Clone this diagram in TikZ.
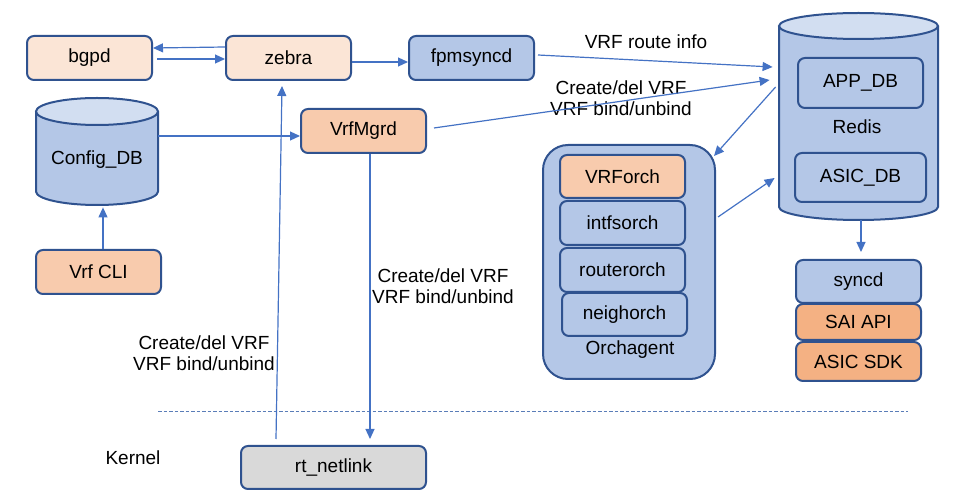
\documentclass[tikz,border=0pt]{standalone}
\usepackage{fontspec}
\setmainfont{Liberation Sans}
\usetikzlibrary{arrows.meta,calc}
\definecolor{bd}{HTML}{2F528F}
\definecolor{ac}{HTML}{4472C4}
\definecolor{dsh}{HTML}{5A7DB8}
\definecolor{peach}{HTML}{FBE5D6}
\definecolor{orl}{HTML}{F8CBAD}
\definecolor{orm}{HTML}{F4B183}
\definecolor{bl}{HTML}{B4C7E7}
\definecolor{bltop}{HTML}{D2DEF1}
\definecolor{gr}{HTML}{D9D9D9}
\begin{document}
\begin{tikzpicture}[x=0.5pt,y=-0.5pt,
  font=\fontsize{9.5}{10.5}\selectfont,
  box/.style={draw=bd, line width=1pt, rounded corners=3.5pt, inner sep=0pt, align=center, minimum width=62.5pt, minimum height=22pt},
  arr/.style={draw=ac, line width=0.6pt, -{Triangle[length=5pt,width=4.5pt]}},
  lbl/.style={align=center, inner sep=0pt},
  cylline/.style={draw=bd, line width=1pt}]
\useasboundingbox (0,0) rectangle (965,502);

% Config_DB cylinder
\node[inner sep=0pt, minimum width=61pt, minimum height=53.5pt] (cfg) at (97,151.5) {};
\fill[bl] (36,111.5) -- (36,191.5) arc[start angle=180,end angle=0,x radius=61,y radius=13.5] -- (158,111.5) -- cycle;
\draw[cylline] (36,111.5) -- (36,191.5) arc[start angle=180,end angle=0,x radius=61,y radius=13.5] -- (158,111.5);
\draw[cylline, fill=bltop] (97,111.5) ellipse[x radius=61, y radius=13.5];
\node[lbl] (cfgl) at (97,160) {Config\_DB};

% Redis cylinder
\node[inner sep=0pt, minimum width=79.5pt, minimum height=103.5pt] (redis) at (858.5,116.5) {};
\fill[bl] (779,26) -- (779,207) arc[start angle=180,end angle=0,x radius=79.5,y radius=13] -- (938,26) -- cycle;
\draw[cylline] (779,26) -- (779,207) arc[start angle=180,end angle=0,x radius=79.5,y radius=13] -- (938,26);
\draw[cylline, fill=bltop] (858.5,26) ellipse[x radius=79.5, y radius=13];
\node[box, fill=bl, minimum height=25pt] (app) at (860.5,83) {APP\_DB};
\node[box, fill=bl, minimum width=65.5pt, minimum height=24.5pt] (asicdb) at (860.5,177.5) {ASIC\_DB};
\node[lbl] (redisl) at (857,127) {Redis};

% top row
\node[box, fill=peach] (bgpd) at (89.5,58) {bgpd};
\node[box, fill=peach] (zebra) at (288.5,58) {zebra};
\node[box, fill=bl] (fpm) at (471.5,58) {fpmsyncd};
\node[box, fill=orl] (vrfmgrd) at (363.5,131) {VrfMgrd};
\node[box, fill=orl] (vrfcli) at (98.5,272) {Vrf CLI};
\node[box, fill=gr, minimum width=92.5pt, minimum height=21.5pt] (rtnl) at (333.5,467.5) {rt\_netlink};

% Orchagent
\node[draw=bd, line width=1pt, fill=bl, rounded corners=12.5pt, inner sep=0pt, minimum width=86pt, minimum height=117pt] (orch) at (629,262) {};
\node[box, fill=orl, minimum height=21.5pt] (vrforch) at (622.5,176.5) {VRForch};
\node[box, fill=bl] (intfs) at (622.5,223) {intfsorch};
\node[box, fill=bl] (router) at (622.5,270) {routerorch};
\node[box, fill=bl, minimum height=21.5pt] (neigh) at (624.5,314.5) {neighorch};
\node[lbl] (orchl) at (630,350) {Orchagent};

% syncd stack
\node[box, fill=bl, minimum height=21.5pt] (syncd) at (858.5,281.5) {syncd};
\node[box, fill=orm, minimum height=18pt] (sai) at (858.5,322) {SAI API};
\node[box, fill=orm, minimum height=19.5pt] (sdk) at (858.5,361.5) {ASIC SDK};

% labels
\node[lbl] (l1) at (646,42) {VRF route info};
\node[lbl] (l2) at (621,98) {Create/del VRF\\VRF bind/unbind};
\node[lbl] (l3) at (443,286) {Create/del VRF\\VRF bind/unbind};
\node[lbl] (l4) at (204,353) {Create/del VRF\\VRF bind/unbind};
\node[lbl] (kern) at (133,458) {Kernel};

% dashed separator
\coordinate (dashL) at (158,412);
\coordinate (dashR) at (908,412);
\draw[dsh, line width=0.5pt, dash pattern=on 1.75pt off 1pt] (dashL) -- (dashR);

% connectors
\draw[arr] ($(zebra.west)+(0,-11)$) -- ($(bgpd.east)+(0,-10)$);
\draw[arr] ($(bgpd.east)+(4,1)$) -- ($(zebra.west)+(0,1)$);
\draw[arr] ($(zebra.east)+(0,4)$) -- ($(fpm.west)+(0,4)$);
\draw[arr] ($(fpm.east)+(3,-3)$) -- ($(redis.west)+(-6,-49.5)$);
\draw[arr] ($(vrfmgrd.east)+(7,-3)$) -- ($(redis.west)+(-9,-36.5)$);
\draw[arr] ($(redis.west)+(-3,-29.5)$) -- ($(orch.north east)+(-2,12)$);
\draw[arr] ($(orch.east)+(2,-45)$) -- ($(redis.west)+(-4,61.5)$);
\draw[arr] ($(redis.south)+(2.5,0)$) -- ($(syncd.north)+(2.5,-7)$);
\draw[arr] ($(cfg.east)+(0,-15.5)$) -- ($(vrfmgrd.west)+(0,5)$);
\draw[arr] ($(vrfcli.north)+(4.5,0)$) -- ($(cfg.south)+(6,2)$);
\draw[arr] ($(rtnl.north)+(-57.5,-6)$) -- ($(zebra.south)+(-6.5,5)$);
\draw[arr] ($(vrfmgrd.south)+(6.5,0)$) -- ($(rtnl.north)+(36.5,-6)$);
\end{tikzpicture}
\end{document}
